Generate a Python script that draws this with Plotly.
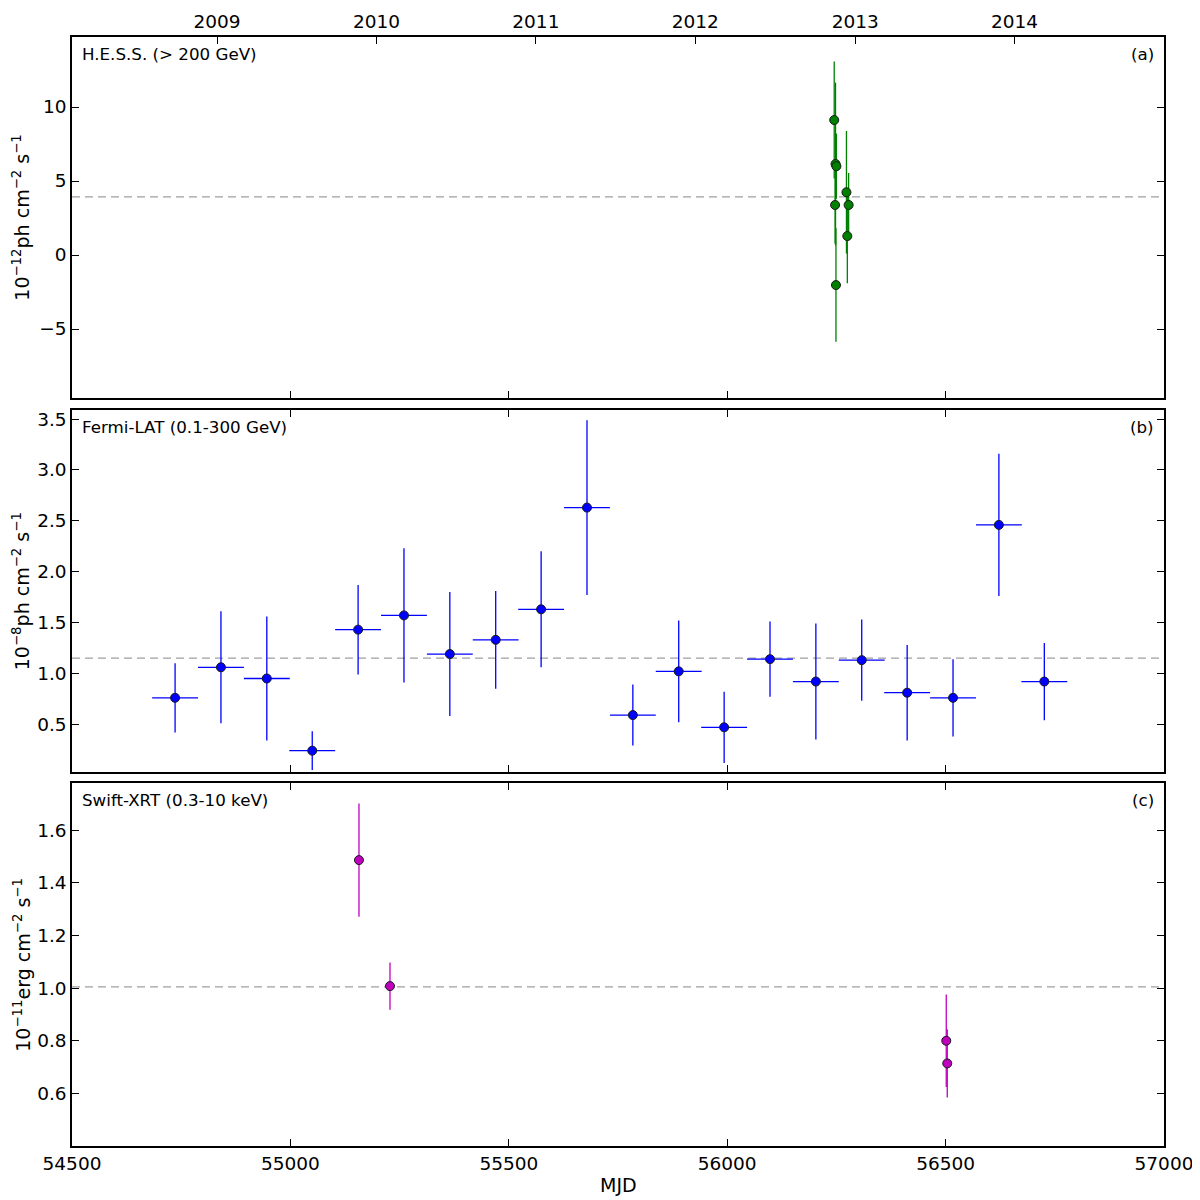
import plotly.graph_objects as go

# H.E.S.S. (> 200 GeV), 1e-12 ph cm^-2 s^-1
hess_mjd = [56245, 56248, 56250, 56247, 56249, 56273, 56278, 56275]
hess_flux = [9.12, 6.15, 6.0, 3.38, -2.03, 4.24, 3.38, 1.28]
hess_err = [3.95, 5.5, 2.2, 2.6, 3.83, 4.14, 2.16, 3.18]
hess_mean = 3.93

# Fermi-LAT (0.1-300 GeV), 1e-8 ph cm^-2 s^-1, 105-day bins
fermi_mjd = [54736, 54841, 54946, 55050, 55155, 55260, 55365, 55470, 55574, 55679,
             55784, 55889, 55993, 56098, 56203, 56308, 56412, 56517, 56622, 56726]
fermi_flux = [0.76, 1.06, 0.95, 0.24, 1.43, 1.57, 1.19, 1.33, 1.63, 2.63,
              0.59, 1.02, 0.47, 1.14, 0.92, 1.13, 0.81, 0.76, 2.46, 0.92]
fermi_err = [0.34, 0.55, 0.61, 0.19, 0.44, 0.66, 0.61, 0.48, 0.57, 0.86,
             0.30, 0.50, 0.35, 0.37, 0.57, 0.40, 0.47, 0.38, 0.70, 0.38]
fermi_halfbin = 52.5
fermi_mean = 1.15

# Swift-XRT (0.3-10 keV), 1e-11 erg cm^-2 s^-1
xrt_mjd = [55157, 55228, 56501.5, 56503.8]
xrt_flux = [1.487, 1.008, 0.80, 0.714]
xrt_err = [0.215, 0.09, 0.176, 0.13]
xrt_mean = 1.005

years = ["2009", "2010", "2011", "2012", "2013", "2014"]
year_mjd = [54832, 55197, 55562, 55927, 56293, 56658]

FONT = "DejaVu Sans"
TICK = dict(family=FONT, size=18.5, color="black")
GREEN, BLUE, MAGENTA = "#008000", "#0000ff", "#bf00bf"


def marker(color):
    return dict(symbol="circle", size=9, color=color, line=dict(color="#1a1a1a", width=1))


fig = go.Figure()
fig.add_trace(go.Scatter(
    x=hess_mjd, y=hess_flux, mode="markers", xaxis="x", yaxis="y",
    marker=marker(GREEN),
    error_y=dict(type="data", array=hess_err, color=GREEN, thickness=1.3, width=0),
))
fig.add_trace(go.Scatter(
    x=fermi_mjd, y=fermi_flux, mode="markers", xaxis="x2", yaxis="y2",
    marker=marker(BLUE),
    error_y=dict(type="data", array=fermi_err, color=BLUE, thickness=1.3, width=0),
    error_x=dict(type="constant", value=fermi_halfbin, color=BLUE, thickness=1.3, width=0),
))
fig.add_trace(go.Scatter(
    x=xrt_mjd, y=xrt_flux, mode="markers", xaxis="x3", yaxis="y3",
    marker=marker(MAGENTA),
    error_y=dict(type="data", array=xrt_err, color=MAGENTA, thickness=1.3, width=0),
))
# dummy trace so the year axis is drawn
fig.add_trace(go.Scatter(x=[year_mjd[0]], y=[0], xaxis="x4", yaxis="y",
                         mode="markers", marker=dict(opacity=0), hoverinfo="skip"))

xr = [54500, 57000]
axis_common = dict(showgrid=False, zeroline=False, showline=True, linecolor="black",
                   linewidth=1.5, ticks="inside", ticklen=7, tickwidth=1,
                   tickcolor="black", tickfont=TICK, automargin=False)

doms = {"a": [0.6745, 1.0], "b": [0.3372, 0.6637], "c": [0.0, 0.3273]}

# page body adds an 8px offset, so the figure is 1192 px and margins shifted
fig.update_layout(
    width=1192, height=1192, showlegend=False,
    paper_bgcolor="white", plot_bgcolor="white",
    margin=dict(l=64, r=36, t=29, b=54, autoexpand=False),
    font=dict(family=FONT, color="black"),
    xaxis=dict(axis_common, range=xr, anchor="y", domain=[0, 1], mirror=True,
               dtick=500, showticklabels=False),
    xaxis2=dict(axis_common, range=xr, anchor="y2", domain=[0, 1], mirror="ticks",
                dtick=500, showticklabels=False, matches="x"),
    xaxis3=dict(axis_common, range=xr, anchor="y3", domain=[0, 1], mirror="ticks",
                dtick=500, tickformat="d", matches="x"),
    xaxis4=dict(axis_common, range=xr, overlaying="x", anchor="y", side="top",
                tickvals=year_mjd, ticktext=years),
    yaxis=dict(axis_common, domain=doms["a"], range=[-9.66, 14.73], anchor="x",
               mirror="ticks", tickvals=[-5, 0, 5, 10]),
    yaxis2=dict(axis_common, domain=doms["b"], range=[0.03, 3.59], anchor="x2",
                mirror="ticks", tickvals=[0.5, 1.0, 1.5, 2.0, 2.5, 3.0, 3.5],
                tickformat=".1f"),
    yaxis3=dict(axis_common, domain=doms["c"], range=[0.40, 1.78], anchor="x3",
                mirror="ticks", tickvals=[0.6, 0.8, 1.0, 1.2, 1.4, 1.6],
                tickformat=".1f"),
)

dash = dict(color="#a0a0a0", width=1.2, dash="8px,5px")
for xref, yref, val in [("x", "y", hess_mean), ("x2", "y2", fermi_mean), ("x3", "y3", xrt_mean)]:
    fig.add_shape(type="line", xref=xref + " domain", yref=yref, x0=0, x1=1,
                  y0=val, y1=val, line=dash, layer="below")

labels = [
    ("x", "y", "H.E.S.S. (> 200 GeV)", "(a)", "10<sup>−12</sup>ph cm<sup>−2</sup> s<sup>−1</sup>"),
    ("x2", "y2", "Fermi-LAT (0.1-300 GeV)", "(b)", "10<sup>−8</sup>ph cm<sup>−2</sup> s<sup>−1</sup>"),
    ("x3", "y3", "Swift-XRT (0.3-10 keV)", "(c)", "10<sup>−11</sup>erg cm<sup>−2</sup> s<sup>−1</sup>"),
]
for xref, yref, name, tag, ytitle in labels:
    fig.add_annotation(text=name, xref=xref + " domain", yref=yref + " domain",
                       x=0.007, y=0.985, xanchor="left", yanchor="top", showarrow=False,
                       font=dict(family=FONT, size=16.7, color="black"))
    fig.add_annotation(text=tag, xref=xref + " domain", yref=yref + " domain",
                       x=0.993, y=0.985, xanchor="right", yanchor="top", showarrow=False,
                       font=dict(family=FONT, size=16.7, color="black"))
    fig.add_annotation(text=ytitle, xref="paper", yref=yref + " domain",
                       x=-0.0465, y=0.5, xanchor="center", yanchor="middle",
                       textangle=-90, showarrow=False,
                       font=dict(family=FONT, size=19, color="black"))

fig.add_annotation(text="MJD", xref="paper", yref="paper", x=0.5, y=-0.035,
                   xanchor="center", yanchor="middle", showarrow=False,
                   font=dict(family=FONT, size=19, color="black"))

fig.write_html("out.html")
